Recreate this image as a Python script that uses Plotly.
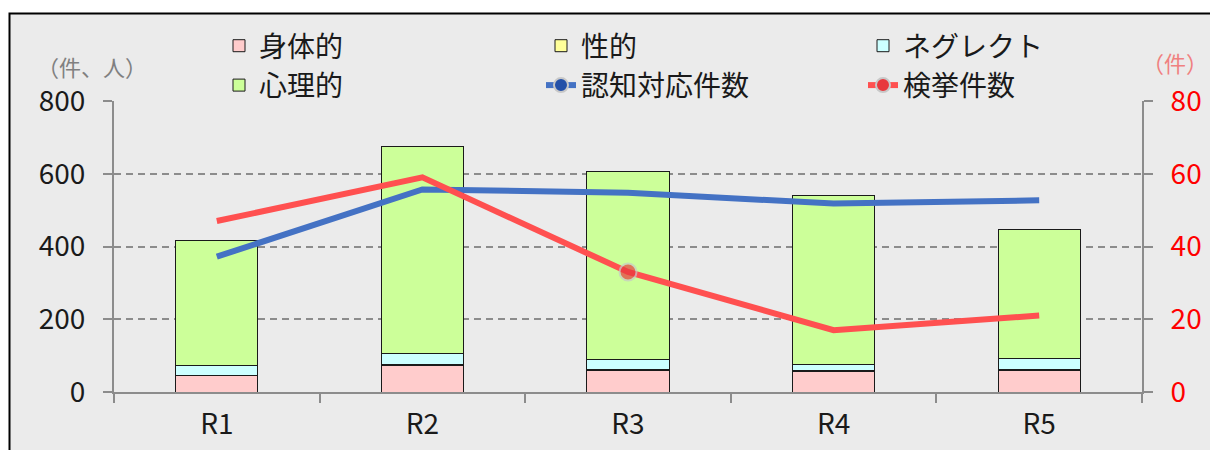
import plotly.graph_objects as go

categories = ["R1", "R2", "R3", "R4", "R5"]
physical = [45, 73, 59, 57, 59]
sexual = [1, 3, 3, 1, 2]
neglect = [28, 31, 27, 17, 30]
psychological = [342, 569, 518, 464, 357]
recognized = [372, 557, 548, 518, 527]
arrests = [47, 59, 33, 17, 21]

left_ticks = [0, 200, 400, 600, 800]
right_ticks = [0, 20, 40, 60, 80]

FONT = "Noto Sans CJK JP"
W, H = 1210, 450
L, R, T, B = 114, 68, 101, 58
PW, PH = W - L - R, H - T - B

def px_x(px):
    return (px - L) / PW

def px_y(py):
    return (H - B - py) / PH

fig = go.Figure()

bar_specs = [
    ("身体的", physical, "#ffcccc"),
    ("性的", sexual, "#ffff99"),
    ("ネグレクト", neglect, "#ccffff"),
    ("心理的", psychological, "#ccff99"),
]
for name, vals, col in bar_specs:
    fig.add_trace(go.Bar(
        x=categories, y=vals, name=name,
        marker=dict(color=col, line=dict(color="#1a1a1a", width=1)),
        width=0.4,
    ))

BLUE, BLUE_M = "#4472c4", "#2350a8"
RED, RED_M = "#ff5050", "#e8383d"

fig.add_trace(go.Scatter(
    x=categories, y=recognized, name="認知対応件数", mode="lines",
    line=dict(color=BLUE, width=6), yaxis="y", showlegend=False,
))
fig.add_trace(go.Scatter(
    x=categories, y=arrests, name="検挙件数", mode="lines+markers",
    line=dict(color=RED, width=6),
    marker=dict(size=[0, 0, 17, 0, 0], color=RED_M,
                line=dict(color="#c8c8c8", width=[0, 0, 2, 0, 0])),
    yaxis="y2", showlegend=False,
))
# legend entries for the two line series
fig.add_trace(go.Scatter(
    x=[None], y=[None], name="認知対応件数", mode="lines+markers",
    line=dict(color=BLUE, width=6),
    marker=dict(size=14, color=BLUE_M, line=dict(color="#c8c8c8", width=2)),
))
fig.add_trace(go.Scatter(
    x=[None], y=[None], name="検挙件数", mode="lines+markers",
    line=dict(color=RED, width=6),
    marker=dict(size=14, color=RED_M, line=dict(color="#c8c8c8", width=2)),
))

fig.update_layout(
    width=W, height=H,
    margin=dict(l=L, r=R, t=T, b=B, autoexpand=False),
    paper_bgcolor="white",
    plot_bgcolor="white",
    barmode="stack",
    font=dict(family=FONT, size=28, color="#1a1a1a"),
    xaxis=dict(
        type="category",
        showline=True, linecolor="#8c8c8c", linewidth=2,
        ticks="outside", tickson="boundaries", ticklen=9, tickwidth=2, tickcolor="#8c8c8c",
        tickfont=dict(size=28, color="#1a1a1a"),
        showgrid=False,
        ticklabelstandoff=6,
    ),
    yaxis=dict(
        range=[0, 800], tickvals=left_ticks,
        showline=True, linecolor="#8c8c8c", linewidth=2,
        ticks="outside", ticklen=9, tickwidth=2, tickcolor="#8c8c8c",
        showgrid=True, gridcolor="#8c8c8c", gridwidth=1.5, griddash="7px,5px",
        zeroline=False,
        tickfont=dict(size=28, color="#1a1a1a"),
        ticklabelstandoff=12,
    ),
    yaxis2=dict(
        range=[0, 80], tickvals=right_ticks, overlaying="y", side="right",
        showline=True, linecolor="#8c8c8c", linewidth=2,
        ticks="outside", ticklen=9, tickwidth=2, tickcolor="#8c8c8c",
        showgrid=False, zeroline=False,
        tickfont=dict(size=28, color="#ff0000"),
        ticklabelstandoff=12,
    ),
    legend=dict(
        orientation="h", traceorder="normal",
        x=px_x(219), xanchor="left",
        y=px_y(21), yanchor="top",
        entrywidth=277, entrywidthmode="pixels",
        bgcolor="rgba(0,0,0,0)",
        font=dict(size=28, color="#1a1a1a"),
    ),
    shapes=[dict(
        type="rect", xref="paper", yref="paper", layer="below",
        x0=px_x(9.5), x1=px_x(W + 20), y0=px_y(H + 20), y1=px_y(13.5),
        fillcolor="#ebebeb", line=dict(color="#000000", width=2),
    )],
    annotations=[
        dict(text="（件、人）", xref="paper", yref="paper",
             x=px_x(92), y=px_y(66), xanchor="center", yanchor="middle",
             showarrow=False, font=dict(size=22, color="#808080")),
        dict(text="（件）", xref="paper", yref="paper",
             x=px_x(1210), y=px_y(62), xanchor="right", yanchor="middle",
             showarrow=False, font=dict(size=22, color="#f08080")),
    ],
)

fig.write_html("out.html")
